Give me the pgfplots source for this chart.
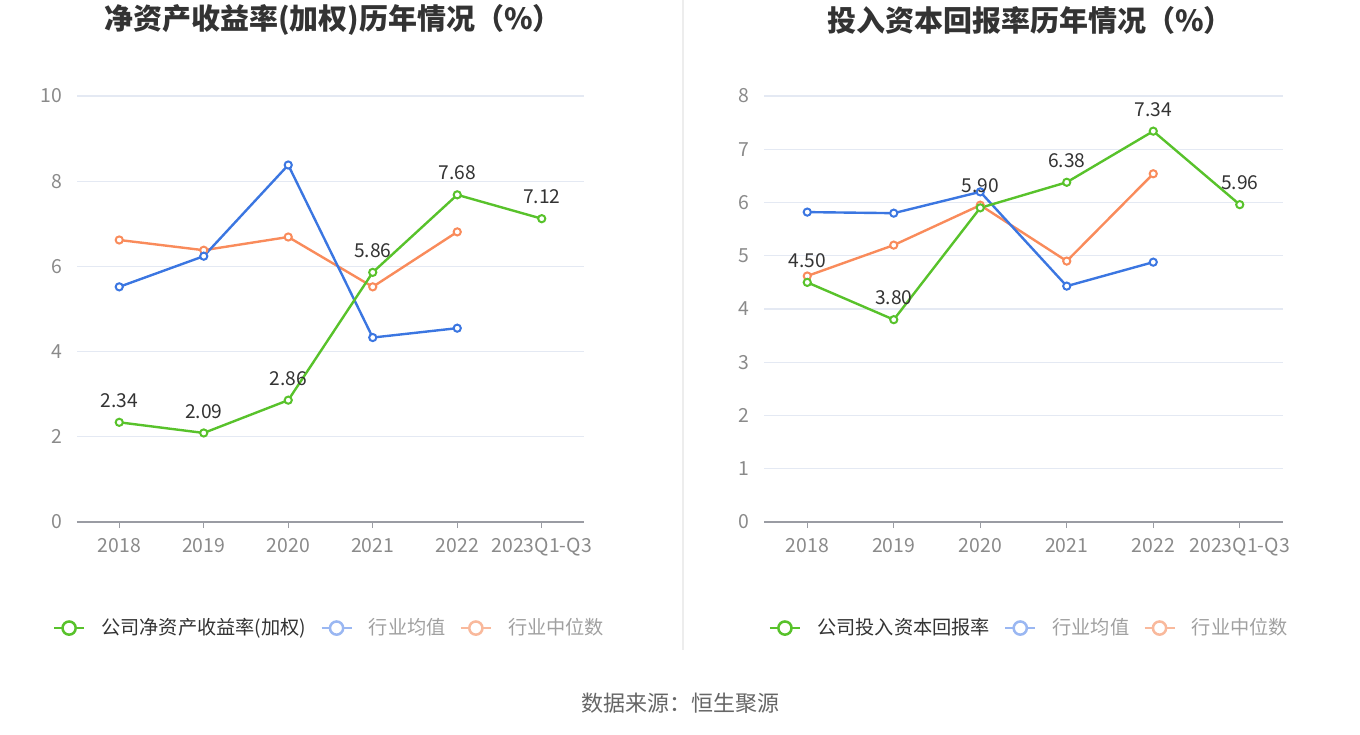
\documentclass[border=0pt]{standalone}
\usepackage{pgfplots}
\pgfplotsset{compat=1.18}
\usepackage{fontspec}
\setmainfont{Noto Sans CJK SC}
\definecolor{cgreen}{HTML}{58C22B}
\definecolor{cblue}{HTML}{3B76E1}
\definecolor{corange}{HTML}{F98B5B}
\definecolor{lblue}{HTML}{9AB7F2}
\definecolor{lorange}{HTML}{F9B99C}
\definecolor{gridc}{HTML}{E4E9F3}
\definecolor{axisc}{HTML}{9A9CA3}
\definecolor{tickc}{HTML}{8A8A8A}
\definecolor{txtc}{HTML}{333333}
\definecolor{legc}{HTML}{A0A0A0}
\pgfplotsset{
  mystyle/.style={
    scale only axis,
    width=253.5pt, height=213pt,
    xmin=-0.5, xmax=5.5, ymin=0,
    xtick={0,1,2,3,4,5},
    xticklabels={2018,2019,2020,2021,2022,2023Q1-Q3},
    axis x line=bottom, axis y line=left,
    x axis line style={-, color=axisc, line width=0.6pt},
    y axis line style={draw=none},
    xtick style={color=axisc, line width=0.6pt},
    ytick style={draw=none},
    tick align=outside,
    major tick length=3pt,
    ymajorgrids, grid style={gridc, line width=0.6pt},
    /pgf/number format/assume math mode=true,
    tick label style={font=\fontsize{9.7}{11}\selectfont, color=tickc},
    xticklabel style={yshift=-1.5pt},
    yticklabel style={xshift=-1pt},
    clip=false,
    legend columns=3,
    legend style={draw=none, fill=none, font=\fontsize{9.6}{11}\selectfont,
      /tikz/every even column/.append style={column sep=5pt},
      /tikz/every odd column/.append style={column sep=6pt}},
    legend image code/.code={
      \draw[#1, line width=1.25pt] (0pt,0pt) -- (15pt,0pt);
      \draw[#1, line width=1.25pt, fill=white] (7.5pt,0pt) circle (3.3pt);
    },
  },
  ser/.style={line width=1.2pt, color=#1, mark=*, mark size=1.8pt,
    mark options={fill=white, line width=1pt, draw=#1}},
  lab/.style={nodes near coords={\pgfmathprintnumber[fixed,fixed zerofill,precision=2]{\pgfplotspointmeta}},
    every node near coord/.append style={font=\fontsize{9.6}{11}\selectfont, color=txtc, yshift=3.5pt}},
}
\begin{document}
\begin{tikzpicture}
\path[use as bounding box] (0,0) rectangle (680pt,367pt);
\draw[color=black!7, line width=0.6pt] (341.5pt,367pt) -- (341.5pt,42pt);
\node[font=\fontsize{14.5}{16}\selectfont\bfseries, color=txtc] at (166.5pt,357pt) {净资产收益率(加权)历年情况（\%）};
\node[font=\fontsize{14.5}{16}\selectfont\bfseries, color=txtc] at (515pt,357pt) {投入资本回报率历年情况（\%）};
\node[font=\fontsize{11}{12}\selectfont, color=black!60] at (340pt,15.5pt) {数据来源：恒生聚源};

\begin{axis}[mystyle, at={(38.5pt,106pt)}, anchor=south west,
  ymax=10, ytick={0,2,4,6,8,10},
  legend style={at={(0.5,-0.249)}, anchor=center}]
\addlegendimage{cgreen}
\addlegendentry{\textcolor{txtc}{公司净资产收益率(加权)}}
\addlegendimage{lblue}
\addlegendentry{\textcolor{legc}{行业均值}}
\addlegendimage{lorange}
\addlegendentry{\textcolor{legc}{行业中位数}}
\addplot[ser=corange, forget plot] coordinates {(0,6.62) (1,6.38) (2,6.69) (3,5.52) (4,6.81)};
\addplot[ser=cblue, forget plot] coordinates {(0,5.52) (1,6.24) (2,8.38) (3,4.33) (4,4.55)};
\addplot[ser=cgreen, lab, forget plot] coordinates {(0,2.34) (1,2.09) (2,2.86) (3,5.86) (4,7.68) (5,7.12)};
\end{axis}

\begin{axis}[mystyle, at={(382pt,106pt)}, anchor=south west, width=259.5pt,
  ymax=8, ytick={0,1,2,3,4,5,6,7,8},
  legend style={at={(0.513,-0.249)}, anchor=center}]
\addlegendimage{cgreen}
\addlegendentry{\textcolor{txtc}{公司投入资本回报率}}
\addlegendimage{lblue}
\addlegendentry{\textcolor{legc}{行业均值}}
\addlegendimage{lorange}
\addlegendentry{\textcolor{legc}{行业中位数}}
\addplot[ser=corange, forget plot] coordinates {(0,4.62) (1,5.20) (2,5.95) (3,4.90) (4,6.54)};
\addplot[ser=cblue, forget plot] coordinates {(0,5.82) (1,5.80) (2,6.20) (3,4.43) (4,4.88)};
\addplot[ser=cgreen, lab, forget plot] coordinates {(0,4.50) (1,3.80) (2,5.90) (3,6.38) (4,7.34) (5,5.96)};
\end{axis}
\end{tikzpicture}
\end{document}
